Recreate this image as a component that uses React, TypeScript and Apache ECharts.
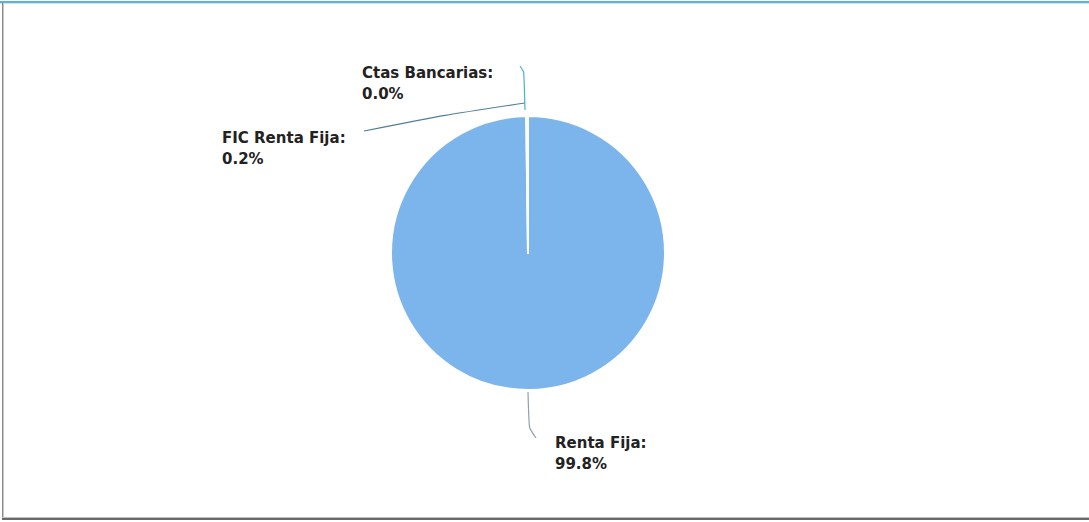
import React, { useEffect, useRef } from "react";
import * as echarts from "echarts";

const categories = ["Renta Fija", "FIC Renta Fija", "Ctas Bancarias"];
const values = [99.8, 0.2, 0.004];
const sliceColors = ["#7cb5ec", "#6f8fa8", "#4ab3de"];
const connectorColors = ["#8fa0ad", "#4f7f9a", "#3fb0e0"];

// label anchor (left/top of text) and connector points
const labelAnchors: [number, number][] = [
  [555, 432],
  [222, 127],
  [362, 62],
];
const connectorPoints: [number, number][][] = [
  [[528, 392], [529, 428], [536, 438]],
  [[525, 103], [445, 115], [364, 131]],
  [[525, 110], [524, 72], [520, 66]],
];

export default function App() {
  const ref = useRef<HTMLDivElement>(null);
  useEffect(() => {
    if (!ref.current) return;
    const chart = echarts.init(ref.current, undefined, { renderer: "svg" });
    chart.setOption({
      animation: false,
      backgroundColor: "transparent",
      series: [
        {
          type: "pie",
          center: [528, 253],
          radius: [0, 137],
          startAngle: 90,
          clockwise: true,
          avoidLabelOverlap: false,
          itemStyle: { borderColor: "#ffffff", borderWidth: 2 },
          label: {
            show: true,
            formatter: (p: any) => p.name + ":\n" + p.percent.toFixed(1) + "%",
            fontFamily: "DejaVu Sans",
            fontWeight: "bold",
            fontSize: 15,
            lineHeight: 21,
            color: "#222222",
          },
          labelLine: { show: true, smooth: 0.2, lineStyle: { width: 1.2 } },
          labelLayout: (p: any) => {
            const i = p.dataIndex;
            return {
              x: labelAnchors[i][0],
              y: labelAnchors[i][1],
              align: "left",
              verticalAlign: "top",
              labelLinePoints: connectorPoints[i],
            };
          },
          data: categories.map((c, i) => ({
            name: c,
            value: values[i],
            itemStyle: { color: sliceColors[i] },
            labelLine: { lineStyle: { color: connectorColors[i] } },
          })),
        },
      ],
    });
    return () => chart.dispose();
  }, []);

  return (
    <div style={{ position: "fixed", left: 0, top: 0, width: 1089, height: 522, background: "#fff" }}>
      <div style={{ position: "absolute", left: 0, top: 1, width: 1089, height: 2, background: "#5fb3cc" }} />
      <div style={{ position: "absolute", left: 0, top: 3, width: 1089, height: 1, background: "#cfe6ee" }} />
      <div style={{ position: "absolute", left: 2, top: 3, width: 1, height: 517, background: "#8a8a8a" }} />
      <div style={{ position: "absolute", left: 3, top: 3, width: 1, height: 517, background: "#c8c8c8" }} />
      <div style={{ position: "absolute", left: 2, top: 517, width: 1087, height: 1, background: "#bdbdbd" }} />
      <div style={{ position: "absolute", left: 2, top: 518, width: 1087, height: 2, background: "#6a6a6a" }} />
      <div ref={ref} style={{ position: "absolute", left: 0, top: 0, width: 1089, height: 522 }} />
    </div>
  );
}
